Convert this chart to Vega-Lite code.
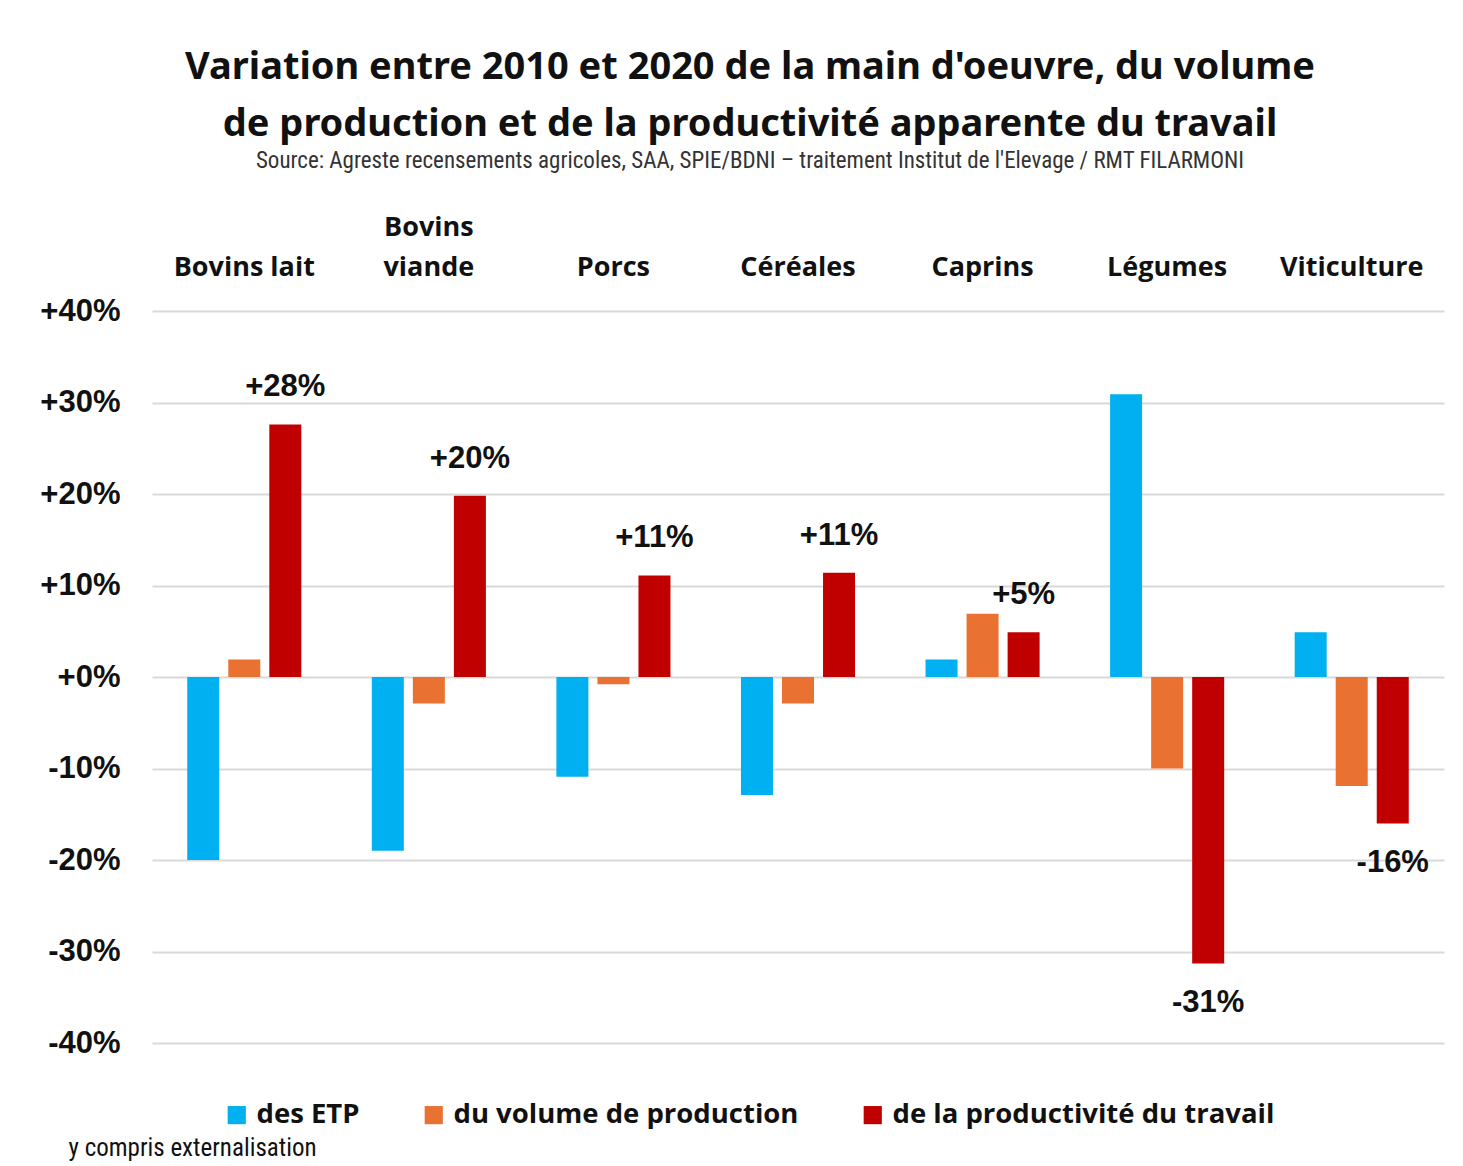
{
  "$schema": "https://vega.github.io/schema/vega-lite/v6.json",
  "width": 1292,
  "height": 732,
  "autosize": {"type": "none"},
  "padding": {"left": 152, "top": 311, "right": 19, "bottom": 123},
  "background": "white",
  "config": {"view": {"stroke": null}},
  "title": {
    "text": ["Variation entre 2010 et 2020 de la main d'oeuvre, du volume", "de production et de la productivité apparente du travail"],
    "subtitle": "Source: Agreste recensements agricoles, SAA, SPIE/BDNI – traitement Institut de l'Elevage / RMT FILARMONI",
    "anchor": "middle",
    "dx": -48,
    "offset": 40,
    "font": "Noto Sans",
    "fontSize": 38,
    "fontWeight": "bold",
    "lineHeight": 57,
    "color": "#111111",
    "subtitleFont": "Liberation Sans Narrow, Roboto Condensed, DejaVu Sans Condensed, Liberation Sans",
    "subtitleFontSize": 23,
    "subtitleColor": "#333333",
    "subtitlePadding": 6
  },
  "data": {
    "values": [
      {"cat": "Bovins lait", "serie": "des ETP", "v": -20},
      {"cat": "Bovins lait", "serie": "du volume de production", "v": 1.9},
      {"cat": "Bovins lait", "serie": "de la productivité du travail", "v": 27.6},
      {"cat": "Bovins viande", "serie": "des ETP", "v": -19},
      {"cat": "Bovins viande", "serie": "du volume de production", "v": -2.9},
      {"cat": "Bovins viande", "serie": "de la productivité du travail", "v": 19.8},
      {"cat": "Porcs", "serie": "des ETP", "v": -10.9},
      {"cat": "Porcs", "serie": "du volume de production", "v": -0.8},
      {"cat": "Porcs", "serie": "de la productivité du travail", "v": 11.1},
      {"cat": "Céréales", "serie": "des ETP", "v": -12.9},
      {"cat": "Céréales", "serie": "du volume de production", "v": -2.9},
      {"cat": "Céréales", "serie": "de la productivité du travail", "v": 11.4},
      {"cat": "Caprins", "serie": "des ETP", "v": 1.9},
      {"cat": "Caprins", "serie": "du volume de production", "v": 6.9},
      {"cat": "Caprins", "serie": "de la productivité du travail", "v": 4.9},
      {"cat": "Légumes", "serie": "des ETP", "v": 30.9},
      {"cat": "Légumes", "serie": "du volume de production", "v": -10},
      {"cat": "Légumes", "serie": "de la productivité du travail", "v": -31.3},
      {"cat": "Viticulture", "serie": "des ETP", "v": 4.9},
      {"cat": "Viticulture", "serie": "du volume de production", "v": -11.9},
      {"cat": "Viticulture", "serie": "de la productivité du travail", "v": -16}
    ]
  },
  "transform": [
    {"calculate": "(datum.v >= 0 ? '+' : '-') + format(abs(datum.v), '.0f') + '%'", "as": "lab"}
  ],
  "encoding": {
    "x": {
      "field": "cat",
      "type": "nominal",
      "sort": ["Bovins lait", "Bovins viande", "Porcs", "Céréales", "Caprins", "Légumes", "Viticulture"],
      "scale": {"paddingInner": 0.333, "paddingOuter": 0.1665},
      "axis": {
        "orient": "top",
        "title": null,
        "labelAngle": 0,
        "domain": false,
        "ticks": false,
        "labelPadding": 70,
        "labelFont": "Open Sans",
        "labelFontWeight": "bold",
        "labelFontSize": 27,
        "labelColor": "#111111",
        "labelLineHeight": 40,
        "labelLimit": 400,
        "labelExpr": "datum.value == 'Bovins viande' ? ['Bovins', 'viande'] : ['', datum.value]"
      }
    },
    "xOffset": {
      "field": "serie",
      "type": "nominal",
      "sort": ["des ETP", "du volume de production", "de la productivité du travail"],
      "scale": {"paddingInner": 0.22, "paddingOuter": 0.11}
    },
    "y": {
      "field": "v",
      "type": "quantitative",
      "scale": {"domain": [-40, 40], "nice": false},
      "axis": {
        "values": [-40, -30, -20, -10, 0, 10, 20, 30, 40],
        "labelExpr": "(datum.value >= 0 ? '+' : '-') + format(abs(datum.value), '.0f') + '%'",
        "domain": false,
        "ticks": false,
        "grid": true,
        "gridColor": "#d9d9d9",
        "gridWidth": 2,
        "labelPadding": 32,
        "labelFont": "Liberation Sans",
        "labelFontWeight": "bold",
        "labelFontSize": 31,
        "labelColor": "#111111",
        "title": "y compris externalisation",
        "titleAngle": 0,
        "titleAlign": "left",
        "titleBaseline": "middle",
        "titleX": -84,
        "titleY": 836,
        "titleFont": "Liberation Sans Narrow, Roboto Condensed, DejaVu Sans Condensed, Liberation Sans",
        "titleFontWeight": "normal",
        "titleFontSize": 25,
        "titleColor": "#111111"
      }
    }
  },
  "layer": [
    {
      "mark": {"type": "bar"},
      "encoding": {
        "color": {
          "field": "serie",
          "type": "nominal",
          "sort": ["des ETP", "du volume de production", "de la productivité du travail"],
          "scale": {
            "domain": ["des ETP", "du volume de production", "de la productivité du travail"],
            "range": ["#00B0F0", "#E97132", "#C00000"]
          },
          "legend": {
            "orient": "none",
            "legendX": 71,
            "legendY": 790,
            "direction": "horizontal",
            "title": null,
            "symbolType": "square",
            "symbolSize": 330,
            "symbolStrokeWidth": 0,
            "labelFont": "Open Sans",
            "labelFontWeight": "bold",
            "labelFontSize": 27.5,
            "labelColor": "#111111",
            "labelLimit": 600,
            "labelOffset": 6,
            "columnPadding": 60
          }
        }
      }
    },
    {
      "transform": [{"filter": "datum.serie == 'de la productivité du travail' && datum.v >= 0"}],
      "mark": {"type": "text", "baseline": "middle", "dy": -37, "font": "Liberation Sans", "fontWeight": "bold", "fontSize": 31, "color": "#111111"},
      "encoding": {"text": {"field": "lab"}}
    },
    {
      "transform": [{"filter": "datum.serie == 'de la productivité du travail' && datum.v < 0"}],
      "mark": {"type": "text", "baseline": "middle", "dy": 40, "font": "Liberation Sans", "fontWeight": "bold", "fontSize": 31, "color": "#111111"},
      "encoding": {"text": {"field": "lab"}}
    }
  ]
}
